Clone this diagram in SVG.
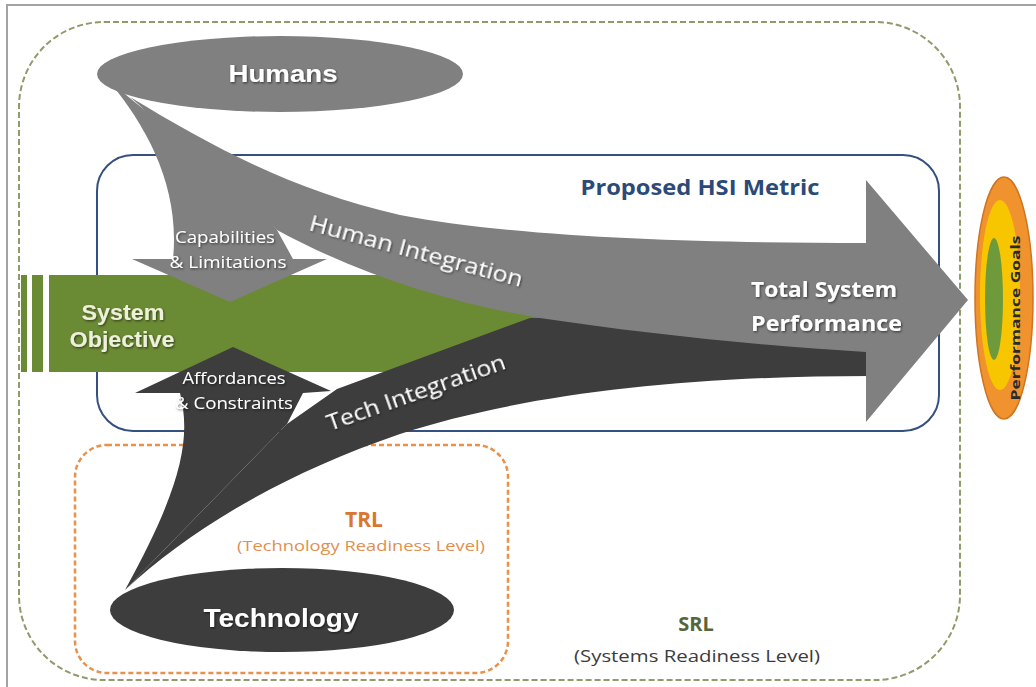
<svg xmlns="http://www.w3.org/2000/svg" width="1036" height="687" viewBox="0 0 1036 687">
<defs>
<style>
.os{font-family:"Open Sans","Liberation Sans",sans-serif}
.ls{font-family:"Liberation Sans",Arial,sans-serif}
.wt{fill:#ffffff}
.sh{filter:url(#sh)}
.gray{fill:#808080}
.dark{fill:#3d3d3d}
.grn{fill:#6b8a34}
</style>
<filter id="sh" x="-10%" y="-40%" width="120%" height="180%">
<feDropShadow dx="1" dy="1.2" stdDeviation="0.8" flood-color="#000" flood-opacity="0.55"/>
</filter>
</defs>
<rect width="1036" height="687" fill="#ffffff"/>
<rect id="frame" x="7" y="5" width="1100" height="800" fill="none" stroke="#a3a3a3" stroke-width="2"/>

<g id="srl">
<rect x="19" y="22" width="941" height="658" rx="85" fill="none" stroke="#8e9c6c" stroke-width="2" stroke-dasharray="6 3"/>
<text class="os" x="696" y="631" text-anchor="middle" font-size="20" font-weight="700" fill="#56663c">SRL</text>
<text class="os" x="697" y="662" text-anchor="middle" font-size="16" fill="#3c3c3c" textLength="246" lengthAdjust="spacingAndGlyphs">(Systems Readiness Level)</text>
</g>

<g id="trl">
<rect x="75" y="445" width="433" height="228" rx="32" fill="none" stroke="#e8914a" stroke-width="2.5" stroke-dasharray="5 3"/>
<text class="os" x="364" y="527" text-anchor="middle" font-size="21" font-weight="700" fill="#d9772e">TRL</text>
<text class="os" x="361" y="551" text-anchor="middle" font-size="15" fill="#e0904f" textLength="248" lengthAdjust="spacingAndGlyphs">(Technology Readiness Level)</text>
</g>

<g id="hsi">
<rect x="97" y="155" width="842" height="276" rx="36" fill="none" stroke="#35507f" stroke-width="2"/>
<text class="os" x="700" y="195" text-anchor="middle" font-size="21" font-weight="700" fill="#2c4a78" textLength="239" lengthAdjust="spacingAndGlyphs">Proposed HSI Metric</text>
</g>

<g id="objective">
<rect class="grn" x="21" y="275" width="6" height="97"/>
<rect class="grn" x="32" y="275" width="11" height="97"/>
<rect class="grn" x="49" y="275" width="491" height="97"/>
<text class="ls sh" x="123" y="320" text-anchor="middle" font-size="22" font-weight="700" fill="#edf0da" textLength="83" lengthAdjust="spacingAndGlyphs">System</text>
<text class="ls sh" x="122" y="347" text-anchor="middle" font-size="22" font-weight="700" fill="#edf0da" textLength="105" lengthAdjust="spacingAndGlyphs">Objective</text>
</g>

<g id="connectors">
<path class="dark" d="M125,590 C190,530 280,475 400,434 C520,395 680,376 870,376 L870,345 L600,318 L530,318 L337,389 L287,424 Z"/>
<path class="dark" d="M233,347 L331,391 L303,393 L287,424 L125,590 C180,490 192,440 180,393 L135,393 Z"/>
<path class="gray" d="M130,97 C210,145 290,190 400,215 C520,238 700,243 866,243 L866,180 L968,300 L866,422 L866,352 C760,346 640,333 540,318 C450,303 360,275 277,230 L185,150 L138,104 Z"/>
<path class="gray" d="M108,80 C150,130 180,190 173,259 L132,259 L230,302 L327,259 L293,259 L277,230 L220,170 L142,108 Z"/>
<g class="os wt sh">
<text x="225" y="243" text-anchor="middle" font-size="16" textLength="100" lengthAdjust="spacingAndGlyphs">Capabilities</text>
<text x="228" y="268" text-anchor="middle" font-size="16" textLength="117" lengthAdjust="spacingAndGlyphs">&amp; Limitations</text>
<text x="234" y="384" text-anchor="middle" font-size="16" textLength="103" lengthAdjust="spacingAndGlyphs">Affordances</text>
<text x="234" y="409" text-anchor="middle" font-size="16" textLength="118" lengthAdjust="spacingAndGlyphs">&amp; Constraints</text>
<text transform="translate(308,230) rotate(15)" font-size="22" textLength="220" lengthAdjust="spacingAndGlyphs">Human Integration</text>
<text transform="translate(330,431) rotate(-19.5)" font-size="21" textLength="188" lengthAdjust="spacingAndGlyphs">Tech Integration</text>
<text x="751" y="297" font-size="22" font-weight="700" textLength="146" lengthAdjust="spacingAndGlyphs">Total System</text>
<text x="751" y="331" font-size="22" font-weight="700" textLength="151" lengthAdjust="spacingAndGlyphs">Performance</text>
</g>
</g>

<g id="humans">
<ellipse class="gray" cx="280" cy="74" rx="183" ry="38"/>
<text class="ls wt sh" x="283" y="82" text-anchor="middle" font-size="24" font-weight="700" textLength="109" lengthAdjust="spacingAndGlyphs">Humans</text>
</g>

<g id="technology">
<ellipse class="dark" cx="282" cy="610" rx="172" ry="42"/>
<text class="ls wt sh" x="281" y="627" text-anchor="middle" font-size="25" font-weight="700" textLength="155" lengthAdjust="spacingAndGlyphs">Technology</text>
</g>

<g id="goals">
<ellipse cx="1004" cy="298" rx="29" ry="121" fill="#f0922e" stroke="#cf7420" stroke-width="1.5"/>
<ellipse cx="1000" cy="295" rx="20" ry="95" fill="#f8c600"/>
<ellipse cx="994" cy="299" rx="9" ry="61" fill="#6f9a3c"/>
<text class="os" transform="translate(1020,318) rotate(-90)" text-anchor="middle" font-size="13" font-weight="700" fill="#2a2a2a" textLength="165" lengthAdjust="spacingAndGlyphs">Performance Goals</text>
</g>
</svg>
